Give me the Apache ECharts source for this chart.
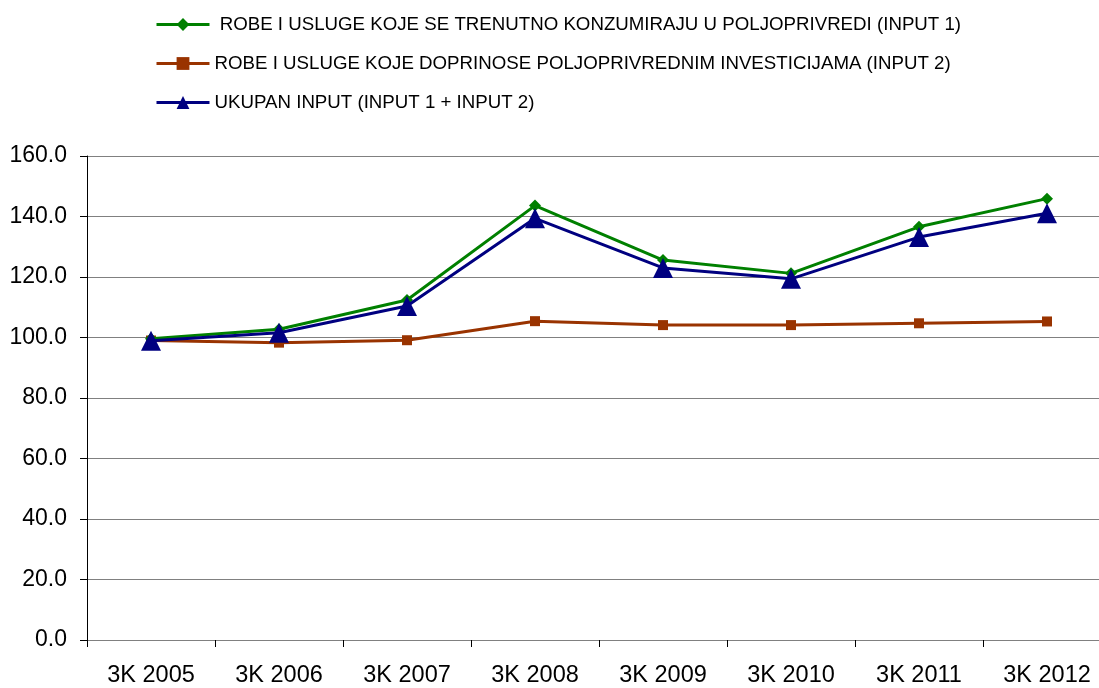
<!DOCTYPE html>
<html>
<head>
<meta charset="utf-8">
<script src="https://cdn.jsdelivr.net/npm/echarts@6/dist/echarts.min.js"></script>
<style>
html,body{margin:0;padding:0;background:#fff;overflow:hidden;width:1099px;height:688px;}
#wrap{width:1099px;height:688px;overflow:hidden;position:relative;}
#chart{width:1111px;height:688px;position:absolute;left:0;top:0;}
</style>
</head>
<body>
<div id="wrap"><div id="chart"></div></div>
<script>
const categories = ['3K 2005','3K 2006','3K 2007','3K 2008','3K 2009','3K 2010','3K 2011','3K 2012'];
const seriesNames = [
  'ROBE I USLUGE KOJE SE TRENUTNO KONZUMIRAJU U POLJOPRIVREDI (INPUT 1)',
  'ROBE I USLUGE KOJE DOPRINOSE POLJOPRIVREDNIM INVESTICIJAMA (INPUT 2)',
  'UKUPAN INPUT (INPUT 1 + INPUT 2)'
];
const input1 = [99.6, 102.7, 112.4, 143.6, 125.6, 121.2, 136.6, 145.9];
const input2 = [99.0, 98.3, 99.1, 105.4, 104.1, 104.1, 104.7, 105.3];
const total  = [98.9, 101.6, 110.4, 139.4, 123.0, 119.4, 133.2, 141.1];
const yTicks = {min: 0, max: 160, interval: 20};

const font = "'Liberation Sans', Arial, sans-serif";
const chart = echarts.init(document.getElementById('chart'), null, {renderer: 'canvas'});
chart.setOption({
  backgroundColor: '#ffffff',
  animation: false,
  textStyle: {fontFamily: font},
  legend: {
    orient: 'vertical',
    left: 150,
    top: 10,
    itemWidth: 53,
    itemHeight: 16,
    itemGap: 20,
    lineStyle: {width: 3},
    textStyle: {fontFamily: font, fontSize: 18.7, color: '#000', lineHeight: 16},
    formatter: function (n) { return n === seriesNames[0] ? ' ' + n : n; },
    data: seriesNames
  },
  grid: {left: 87, top: 156, right: 0, height: 487, containLabel: false},
  xAxis: {
    type: 'category',
    data: categories,
    boundaryGap: true,
    axisLine: {lineStyle: {color: '#808080', width: 1}},
    axisTick: {show: true, inside: false, length: 7, lineStyle: {color: '#000'}},
    axisLabel: {fontFamily: font, fontSize: 23.5, color: '#000', margin: 24}
  },
  yAxis: {
    type: 'value',
    min: yTicks.min, max: yTicks.max, interval: yTicks.interval,
    axisLine: {show: true, lineStyle: {color: '#000', width: 1}},
    axisTick: {show: true, inside: false, length: 7, lineStyle: {color: '#000'}},
    axisLabel: {fontFamily: font, fontSize: 23, color: '#000', margin: 20,
      formatter: function (v) { return v.toFixed(1); }},
    splitLine: {show: true, lineStyle: {color: '#808080', width: 1}}
  },
  series: [
    {
      name: seriesNames[0], type: 'line', data: input1,
      symbol: 'diamond', symbolSize: 12,
      lineStyle: {color: '#008000', width: 3},
      itemStyle: {color: '#008000'}, z: 3
    },
    {
      name: seriesNames[1], type: 'line', data: input2,
      symbol: 'rect', symbolSize: 10,
      lineStyle: {color: '#993300', width: 3},
      itemStyle: {color: '#993300'}, z: 2
    },
    {
      name: seriesNames[2], type: 'line', data: total,
      symbol: 'triangle', symbolSize: 20,
      lineStyle: {color: '#000080', width: 3},
      itemStyle: {color: '#000080'}, z: 4
    }
  ]
});
</script>
</body>
</html>
